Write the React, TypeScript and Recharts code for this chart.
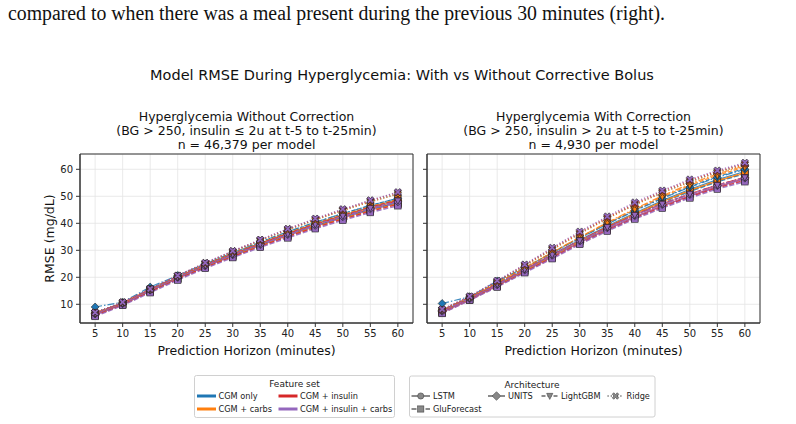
import React from 'react';
import { LineChart, Line, XAxis, YAxis, CartesianGrid, ReferenceArea } from 'recharts';

// prediction horizons (minutes)
const horizons = [5, 10, 15, 20, 25, 30, 35, 40, 45, 50, 55, 60];
const featureSets = ['CGM only', 'CGM + carbs', 'CGM + insulin', 'CGM + insulin + carbs'];
const architectures = ['LSTM', 'GluForecast', 'UNITS', 'LightGBM', 'Ridge'];
const xTicks = [5, 10, 15, 20, 25, 30, 35, 40, 45, 50, 55, 60];
const yTicks = [10, 20, 30, 40, 50, 60];

// Without correction - rows follow featureSets order
const withoutLSTM = [
  [6.5, 10.3, 15.2, 20.0, 24.5, 28.6, 32.6, 36.3, 39.8, 43.0, 46.0, 48.8],
  [6.3, 10.1, 15.0, 19.8, 24.2, 28.3, 32.3, 36.0, 39.5, 42.7, 45.6, 48.3],
  [6.2, 10.0, 14.9, 19.7, 24.1, 28.1, 32.0, 35.7, 39.1, 42.3, 45.2, 47.8],
  [6.0, 9.9, 14.8, 19.6, 23.9, 27.9, 31.8, 35.4, 38.8, 42.0, 44.9, 47.5],
];
const withoutGlu = [
  [6.0, 10.0, 14.8, 19.5, 23.9, 28.0, 31.9, 35.5, 38.9, 42.1, 45.0, 47.6],
  [5.9, 9.9, 14.7, 19.4, 23.8, 27.8, 31.7, 35.3, 38.7, 41.8, 44.7, 47.3],
  [5.8, 9.8, 14.6, 19.3, 23.6, 27.6, 31.4, 35.0, 38.4, 41.5, 44.4, 47.0],
  [5.5, 9.6, 14.3, 19.0, 23.3, 27.3, 31.1, 34.6, 38.0, 41.1, 44.0, 46.5],
];
const withoutUnits = [
  [9.0, 10.8, 16.4, 20.7, 25.0, 29.1, 33.1, 36.9, 40.4, 43.6, 46.6, 49.3],
  [6.8, 10.5, 15.6, 20.2, 24.6, 28.7, 32.6, 36.3, 39.8, 43.0, 45.9, 48.6],
  [6.6, 10.4, 15.4, 20.1, 24.4, 28.5, 32.4, 36.1, 39.5, 42.7, 45.6, 48.2],
  [6.4, 10.2, 15.2, 19.9, 24.2, 28.3, 32.1, 35.8, 39.2, 42.4, 45.3, 47.9],
];
const withoutLgbm = [
  [6.8, 10.6, 15.8, 20.4, 24.9, 29.0, 33.0, 36.8, 40.3, 43.6, 46.6, 49.3],
  [6.7, 10.5, 15.5, 20.2, 24.6, 28.8, 32.7, 36.5, 40.0, 43.2, 46.2, 48.9],
  [6.6, 10.4, 15.4, 20.1, 24.5, 28.6, 32.5, 36.2, 39.7, 42.9, 45.9, 48.6],
  [6.5, 10.3, 15.3, 20.0, 24.4, 28.5, 32.3, 36.0, 39.5, 42.7, 45.6, 48.3],
];
const withoutRidge = [
  [7.0, 10.7, 15.6, 20.6, 25.2, 29.5, 33.7, 37.6, 41.3, 44.8, 48.0, 50.9],
  [6.9, 10.6, 15.5, 20.5, 25.1, 29.4, 33.6, 37.5, 41.2, 44.7, 47.9, 50.8],
  [7.0, 10.8, 15.7, 20.7, 25.3, 29.7, 33.9, 37.9, 41.6, 45.1, 48.4, 51.4],
  [7.0, 10.8, 15.7, 20.7, 25.4, 29.8, 34.0, 38.0, 41.8, 45.3, 48.6, 51.6],
];

// With correction
const withLSTM = [
  [7.5, 12.2, 17.3, 22.8, 28.3, 33.8, 39.0, 43.8, 48.4, 52.6, 56.2, 59.2],
  [7.3, 12.0, 17.1, 22.6, 28.1, 33.6, 38.7, 43.5, 48.0, 52.1, 55.6, 58.6],
  [7.2, 11.8, 16.9, 22.3, 27.7, 33.0, 37.9, 42.4, 46.5, 50.2, 53.6, 56.6],
  [7.0, 11.7, 16.8, 22.2, 27.5, 32.8, 37.7, 42.2, 46.3, 50.0, 53.4, 56.4],
];
const withGlu = [
  [7.1, 11.9, 17.0, 22.4, 27.9, 33.3, 38.4, 43.2, 47.7, 51.8, 55.4, 58.4],
  [7.0, 11.8, 16.9, 22.4, 27.9, 33.3, 38.5, 43.4, 48.0, 52.2, 55.8, 58.8],
  [6.8, 11.6, 16.6, 21.9, 27.2, 32.5, 37.4, 41.9, 46.0, 49.8, 53.1, 55.9],
  [6.6, 11.5, 16.4, 21.7, 26.9, 32.2, 37.1, 41.6, 45.6, 49.4, 52.7, 55.4],
];
const withUnits = [
  [10.3, 12.8, 18.6, 23.6, 29.0, 34.5, 39.7, 44.6, 49.2, 53.4, 57.0, 60.0],
  [7.8, 12.5, 17.8, 23.4, 29.2, 34.9, 40.3, 45.4, 50.2, 54.6, 58.3, 61.3],
  [7.6, 12.2, 17.4, 22.9, 28.3, 33.6, 38.5, 43.0, 47.2, 50.9, 54.2, 57.0],
  [7.4, 12.0, 17.2, 22.7, 28.1, 33.4, 38.3, 42.8, 46.9, 50.6, 53.9, 56.7],
];
const withLgbm = [
  [7.9, 12.6, 18.0, 23.5, 29.1, 34.6, 39.8, 44.8, 49.4, 53.6, 57.3, 60.3],
  [7.8, 12.5, 17.9, 23.5, 29.2, 34.8, 40.1, 45.1, 49.8, 54.1, 57.8, 60.8],
  [7.7, 12.3, 17.5, 23.0, 28.4, 33.7, 38.6, 43.1, 47.2, 50.9, 54.2, 57.0],
  [7.6, 12.2, 17.4, 22.9, 28.3, 33.6, 38.5, 43.0, 47.1, 50.8, 54.1, 56.9],
];
const withRidge = [
  [8.0, 12.8, 18.4, 24.3, 30.3, 36.2, 41.8, 46.9, 51.4, 55.4, 58.9, 61.8],
  [7.9, 12.7, 18.3, 24.2, 30.2, 36.1, 41.7, 46.8, 51.3, 55.3, 58.8, 61.7],
  [8.1, 12.9, 18.6, 24.6, 30.7, 36.6, 42.2, 47.3, 51.9, 55.9, 59.3, 62.1],
  [8.2, 13.0, 18.8, 24.8, 31.0, 37.0, 42.6, 47.8, 52.2, 56.3, 59.6, 62.5],
];

const FEATURE_COLORS = ['#1f77b4', '#ff7f0e', '#d62728', '#9467bd'];
const ARCH_STYLE: Record<string, { dash?: string; width: number; marker: string }> = {
  LSTM: { width: 1.2, marker: 'circle' },
  GluForecast: { dash: '5 2', width: 1.5, marker: 'square' },
  UNITS: { dash: '7 2 1.5 2', width: 1.2, marker: 'diamond' },
  LightGBM: { dash: '4 2', width: 1.2, marker: 'triangle' },
  Ridge: { dash: '1.2 2', width: 1.2, marker: 'x' },
};

const X_DOMAIN: [number, number] = [2.25, 62.75];
const Y_DOMAIN: [number, number] = [3.07, 65.67];
const FONT = '"DejaVu Sans", sans-serif';

const xPath = (cx: number, cy: number, h: number) => {
  const w = h * 0.3;
  const pts = [[w, h], [w, w], [h, w], [h, -w], [w, -w], [w, -h], [-w, -h], [-w, -w], [-h, -w], [-h, w], [-w, w], [-w, h]];
  return 'M' + pts.map(([x, y]) => `${cx + (x - y) / Math.SQRT2},${cy + (x + y) / Math.SQRT2}`).join('L') + 'Z';
};

const MarkerShape = ({ cx, cy, shape, fill, stroke = '#222', sw = 0.6, s = 3.3 }: any) => {
  if (cx == null || cy == null) return null;
  const common = { fill, stroke, strokeWidth: sw };
  switch (shape) {
    case 'circle':
      return <circle cx={cx} cy={cy} r={s} {...common} />;
    case 'square':
      return <rect x={cx - s} y={cy - s} width={2 * s} height={2 * s} {...common} />;
    case 'diamond':
      return <path d={`M${cx},${cy - s * 1.2}L${cx + s * 1.2},${cy}L${cx},${cy + s * 1.2}L${cx - s * 1.2},${cy}Z`} {...common} />;
    case 'triangle':
      return <path d={`M${cx - s},${cy - s * 0.85}L${cx + s},${cy - s * 0.85}L${cx},${cy + s * 1.1}Z`} {...common} />;
    default:
      return <path d={xPath(cx, cy, s * 1.15)} {...common} />;
  }
};

const buildPanel = (arrays: number[][][]) => {
  const series = architectures.flatMap((arch, a) =>
    featureSets.map((f, fi) => ({
      key: `a${a}f${fi}`,
      arch,
      feature: f,
      color: FEATURE_COLORS[fi],
      values: arrays[a][fi],
    }))
  );
  const table = horizons.map((h, i) => {
    const row: Record<string, number> = { h };
    series.forEach((s) => (row[s.key] = s.values[i]));
    return row;
  });
  return { series, table };
};

const withoutPanel = buildPanel([withoutLSTM, withoutGlu, withoutUnits, withoutLgbm, withoutRidge]);
const withPanel = buildPanel([withLSTM, withGlu, withUnits, withLgbm, withRidge]);

const Panel = ({ panel, showYLabels, width, margin, yWidth }: any) => (
  <LineChart width={width} height={270} data={panel.table} margin={margin}>
    <CartesianGrid stroke="#e4e4e4" strokeWidth={0.8} />
    <XAxis
      dataKey="h"
      type="number"
      domain={X_DOMAIN}
      ticks={xTicks}
      interval={0}
      allowDataOverflow
      height={30}
      tickSize={4}
      tickMargin={3}
      tick={{ fontSize: 10, fill: '#222', fontFamily: FONT }}
      tickLine={{ stroke: '#333' }}
      axisLine={{ stroke: '#333' }}
    />
    <YAxis
      type="number"
      domain={Y_DOMAIN}
      ticks={yTicks}
      interval={0}
      allowDataOverflow
      width={yWidth}
      tickSize={4}
      tickMargin={3}
      tickFormatter={showYLabels ? undefined : () => ''}
      tick={{ fontSize: 10, fill: '#222', fontFamily: FONT }}
      tickLine={{ stroke: '#333' }}
      axisLine={{ stroke: '#333' }}
    />
    <ReferenceArea x1={X_DOMAIN[0]} x2={X_DOMAIN[1]} y1={Y_DOMAIN[0]} y2={Y_DOMAIN[1]} fill="none" stroke="#333" strokeWidth={1} ifOverflow="visible" />
    {panel.series.map((s: any) => {
      const st = ARCH_STYLE[s.arch];
      return (
        <Line
          key={s.key}
          dataKey={s.key}
          type="linear"
          stroke={s.color}
          strokeWidth={st.width}
          strokeDasharray={st.dash}
          strokeOpacity={0.85}
          isAnimationActive={false}
          activeDot={false}
          dot={(p: any) => <MarkerShape key={`${s.key}-${p.index}`} cx={p.cx} cy={p.cy} shape={st.marker} fill={s.color} />}
        />
      );
    })}
  </LineChart>
);

const legendText = { fontFamily: FONT, fontSize: 8.2, fill: '#222' };

// legend slots: column-major like matplotlib ncol=2
const featureSlots: [number, number][] = [[197, 396], [197, 409], [278.5, 396], [278.5, 409]];
const archSlots: Record<string, [number, number, number]> = {
  LSTM: [411.5, 396, 18.5],
  GluForecast: [411.5, 409, 18.5],
  UNITS: [488, 396, 17],
  LightGBM: [541.5, 396, 16.5],
  Ridge: [607.5, 396, 16],
};

export default function App() {
  return (
    <div style={{ position: 'absolute', left: 0, top: 0, width: 796, height: 424, background: '#fff', overflow: 'hidden' }}>
      <svg width={796} height={424} style={{ position: 'absolute', left: 0, top: 0 }}>
        <text x={8} y={20} fontFamily='"Liberation Serif", serif' fontSize={20} fill="#111" textLength={657} lengthAdjust="spacingAndGlyphs">
          compared to when there was a meal present during the previous 30 minutes (right).
        </text>
        <text x={402} y={80} textAnchor="middle" fontFamily={FONT} fontSize={14.5} fill="#111">
          Model RMSE During Hyperglycemia: With vs Without Corrective Bolus
        </text>
        <g fontFamily={FONT} fontSize={12.5} fill="#111" textAnchor="middle">
          <text x={246.5} y={121}>Hyperglycemia Without Correction</text>
          <text x={246.5} y={135}>(BG &gt; 250, insulin ≤ 2u at t-5 to t-25min)</text>
          <text x={246.5} y={148.5}>n = 46,379 per model</text>
          <text x={593.5} y={121}>Hyperglycemia With Correction</text>
          <text x={593.5} y={135}>(BG &gt; 250, insulin &gt; 2u at t-5 to t-25min)</text>
          <text x={593.5} y={148.5}>n = 4,930 per model</text>
          <text x={246.5} y={355}>Prediction Horizon (minutes)</text>
          <text x={593.5} y={355}>Prediction Horizon (minutes)</text>
          <text transform="translate(54,238.5) rotate(-90)">RMSE (mg/dL)</text>
        </g>

        {/* Feature set legend */}
        <rect x={194.5} y={375.5} width={200} height={42} fill="#fff" stroke="#d0d0d0" rx={2} />
        <text x={294.5} y={387} textAnchor="middle" fontFamily={FONT} fontSize={9} fill="#222">Feature set</text>
        {featureSets.map((f, i) => {
          const [x0, y0] = featureSlots[i];
          return (
            <g key={f}>
              <line x1={x0} x2={x0 + 19} y1={y0} y2={y0} stroke={FEATURE_COLORS[i]} strokeWidth={3} />
              <text x={x0 + 21.5} y={y0 + 3} {...legendText}>{f}</text>
            </g>
          );
        })}

        {/* Architecture legend */}
        <rect x={409.5} y={376} width={245.5} height={41} fill="#fff" stroke="#d0d0d0" rx={2} />
        <text x={532} y={387.5} textAnchor="middle" fontFamily={FONT} fontSize={9} fill="#222">Architecture</text>
        {architectures.map((a) => {
          const [x0, y0, len] = archSlots[a];
          const st = ARCH_STYLE[a];
          return (
            <g key={a}>
              <line x1={x0} x2={x0 + len} y1={y0} y2={y0} stroke="#666" strokeWidth={1.5} strokeDasharray={st.dash} />
              <MarkerShape cx={x0 + len / 2} cy={y0} shape={st.marker} fill="#888" stroke="#444" s={st.marker === 'diamond' ? 3.6 : 3.1} />
              <text x={x0 + len + 3} y={y0 + 3} {...legendText}>{a}</text>
            </g>
          );
        })}
      </svg>

      <div style={{ position: 'absolute', left: 0, top: 100 }}>
        <Panel panel={withoutPanel} showYLabels width={430} yWidth={80} margin={{ top: 54, right: 17, bottom: 17, left: 0 }} />
      </div>
      <div style={{ position: 'absolute', left: 400, top: 100 }}>
        <Panel panel={withPanel} showYLabels={false} width={380} yWidth={27} margin={{ top: 54, right: 20, bottom: 17, left: 0 }} />
      </div>
    </div>
  );
}
